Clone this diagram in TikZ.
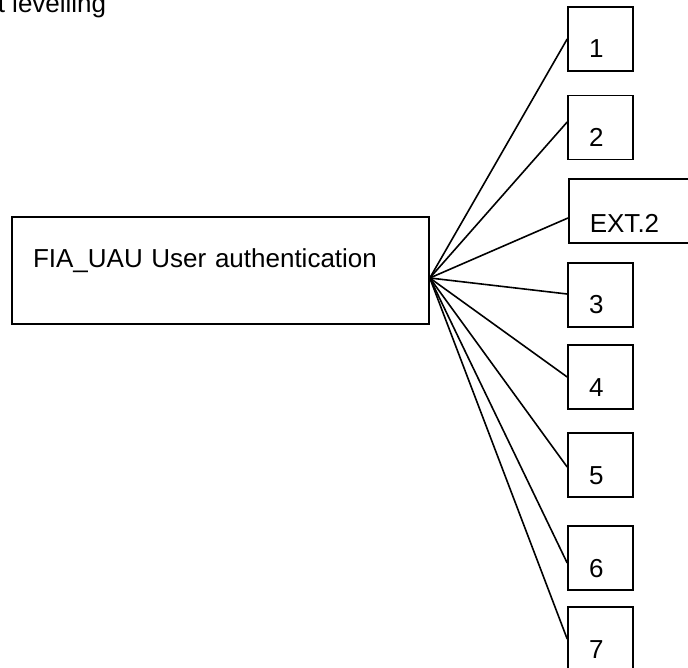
\documentclass[tikz,border=0pt]{standalone}
\usepackage{fontspec}
\setmainfont{Liberation Sans}
\begin{document}
\begin{tikzpicture}[x=1pt,y=-1pt, line width=1.6pt,
  every node/.style={font=\fontsize{26}{30}\selectfont},
  bigbox/.style={draw, rectangle, inner xsep=21pt, inner ysep=0pt, minimum width=417pt, minimum height=107pt, text width=375pt, align=left, text height=10pt, text depth=15pt},
  smallbox/.style={draw, rectangle, inner xsep=21pt, inner ysep=0pt, minimum width=65pt, minimum height=64pt, text width=23pt, align=left, text height=38pt, text depth=0pt},
  widebox/.style={smallbox, minimum width=150pt, text width=108pt, text height=44pt},
  link/.style={draw, line width=1.6pt}]
\useasboundingbox (0,0) rectangle (688,668);
\clip (0,0) rectangle (688,668);
\node[anchor=base west, inner sep=0pt] (title) at (-3,13) {t levelling};
\node[bigbox] (main) at (220.5,270.5) {FIA\_UAU User authentication};
\coordinate (hub) at ([yshift=-7.5pt]main.east);
\node[smallbox] (b1) at (600.5,39) {1};
\node[smallbox] (b2) at (600.5,127.5) {2};
\node[widebox, anchor=west] (ext) at (568,211) {EXT.2};
\node[smallbox] (b3) at (600.5,295) {3};
\node[smallbox] (b4) at (600.5,377) {4};
\node[smallbox] (b5) at (600.5,465) {5};
\node[smallbox] (b6) at (600.5,558) {6};
\node[smallbox] (b7) at (600.5,639) {7};
\draw[link] (hub) -- (b1.west);
\draw[link] (hub) -- ([yshift=5.5pt]b2.west);
\draw[link] (hub) -- ([yshift=-7pt]ext.west);
\draw[link] (hub) -- ([yshift=1pt]b3.west);
\draw[link] (hub) -- (b4.west);
\draw[link] (hub) -- ([yshift=-2pt]b5.west);
\draw[link] (hub) -- ([yshift=-5pt]b6.west);
\draw[link] (hub) -- (b7.west);
\end{tikzpicture}
\end{document}
